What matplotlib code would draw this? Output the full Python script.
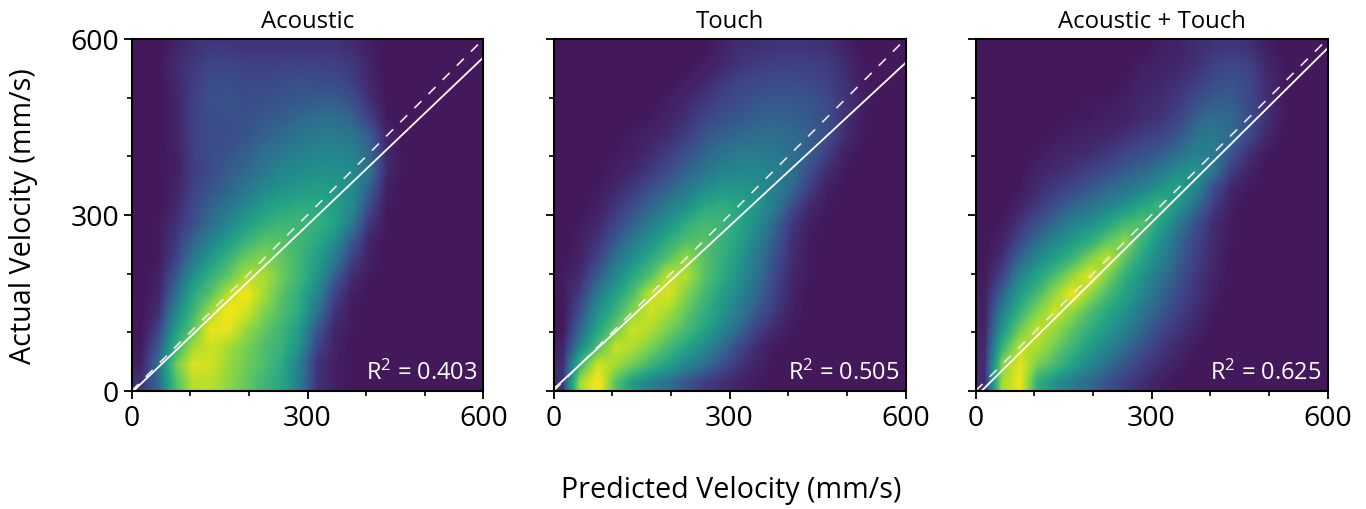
import numpy as np
import matplotlib
matplotlib.use('Agg')
import matplotlib.pyplot as plt
from matplotlib.colors import LinearSegmentedColormap
from matplotlib.ticker import MultipleLocator

plt.rcParams['font.family'] = ['Open Sans', 'DejaVu Sans']
plt.rcParams['mathtext.default'] = 'regular'

# density, 30 mm/s cells, top row is 570-600 mm/s
# scale 0 (empty) to 9 (brightest)
acoustic = [
    [0,0,.3,.6,.8,.8,.7,.7,.7,.7,.7,.7,.5,.2,0,0,0,0,0,0],
    [0,0,.5,.8,1.1,1.1,1,1,1,1.1,1,1,.8,.3,0,0,0,0,0,0],
    [0,0,.4,.9,1.3,1.3,1.2,1.2,1.3,1.4,1.3,1.3,1,.4,0,0,0,0,0,0],
    [0,0,.3,1,1.4,1.5,1.3,1.4,1.5,1.6,1.7,1.7,1.4,.6,0,0,0,0,0,0],
    [0,0,.3,1,1.3,1.4,1.4,1.6,1.7,2,2.2,2.2,1.9,1,.1,0,0,0,0,0],
    [0,0,.3,1,1.3,1.3,1.5,1.8,2.1,2.4,2.6,2.7,2.4,1.7,.3,0,0,0,0,0],
    [0,0,.2,1,1.3,1.5,1.8,2.2,2.5,2.8,3,3,2.9,2,.4,0,0,0,0,0],
    [0,0,.2,.9,1.3,1.7,2,2.5,3,3.2,3.4,3.4,3.1,2.3,.4,0,0,0,0,0],
    [0,0,.3,1,1.5,1.9,2.5,3.1,3.4,3.7,3.9,3.7,3.2,1.8,.2,0,0,0,0,0],
    [0,0,.4,1.2,1.9,2.4,3.1,3.8,4.2,4.5,4.4,4,3.2,1.2,.1,0,0,0,0,0],
    [0,.1,.6,1.4,2.2,3,3.9,4.6,5,5,4.7,4.1,2.6,.7,.1,0,0,0,0,0],
    [0,.1,.8,1.9,2.9,3.9,4.9,5.6,5.6,5,4.4,3.3,1.6,.3,0,0,0,0,0,0],
    [0,.1,1,2.6,3.8,5,6,6.4,5.8,5,4,2.6,1,.2,0,0,0,0,0,0],
    [0,.2,1.6,3.4,4.8,5.8,7.2,7.2,6,5,3.6,1.8,.5,.1,0,0,0,0,0,0],
    [0,.3,2.2,4.4,5.6,7.4,8.6,7,5.6,4.6,3,1.1,.2,0,0,0,0,0,0,0],
    [0,.5,3,5,7,8.8,7.8,6.4,5.4,4.4,2.4,.7,.1,0,0,0,0,0,0,0],
    [0,1,3.8,5.8,8.4,8.2,6.8,5.8,5,3.8,1.6,.4,.1,0,0,0,0,0,0,0],
    [.1,1.6,4.8,7,7.8,7,6.2,5.4,4.8,3.4,1.1,.3,0,0,0,0,0,0,0,0],
    [.2,2.2,6,8,7.8,6.8,6,5.4,4.4,2.8,.7,.2,0,0,0,0,0,0,0,0],
    [.6,2,5.4,7.4,7.4,6.6,5.8,5,4.2,2.6,.7,.2,0,0,0,0,0,0,0,0],
]
touch = [
    [0,0,0,0,0,0,0,0,0,.3,.5,.6,.7,.7,.7,.6,.3,0,0,0],
    [0,0,0,0,0,0,0,0,.2,.4,.7,.9,1,1,1,.9,.5,.1,0,0],
    [0,0,0,0,0,0,0,.2,.4,.8,1.1,1.2,1.3,1.3,1.2,1,.6,.1,0,0],
    [0,0,0,0,0,0,.2,.4,.7,1.1,1.3,1.5,1.6,1.6,1.5,1.2,.7,.2,0,0],
    [0,0,0,0,0,.1,.3,.6,1.1,1.4,1.6,1.8,1.9,1.8,1.6,1.3,.6,.1,0,0],
    [0,0,0,0,.2,.3,.5,.9,1.5,1.8,2,2.2,2.2,2.1,1.8,1.3,.5,.1,0,0],
    [0,0,0,.1,.2,.5,.9,1.4,1.9,2.3,2.6,2.6,2.5,2.2,1.7,.9,.2,0,0,0],
    [0,0,0,.2,.4,.8,1.3,1.9,2.4,2.9,3,3.1,2.8,2.3,1.3,.5,.1,0,0,0],
    [0,0,.1,.4,.8,1.4,1.9,2.5,3.2,3.6,3.6,3.4,2.8,2,.9,.2,0,0,0,0],
    [0,0,.2,.7,1.3,2,2.7,3.3,4.3,4.6,4.2,3.6,2.6,1.3,.4,.1,0,0,0,0],
    [0,.1,.4,1.1,1.9,2.7,3.5,4.6,5.2,5,4.2,3.3,2,.8,.2,0,0,0,0,0],
    [0,.2,.7,1.6,2.6,3.5,4.6,5.4,5.6,4.8,4.1,2.8,1.6,.6,.1,0,0,0,0,0],
    [0,.3,1.1,2.3,3.4,4.5,5.6,6.8,5.6,4.7,3.7,2.5,1.4,.5,.1,0,0,0,0,0],
    [.1,.5,1.7,3.1,4.4,5.6,7.6,7.2,5.6,4.5,3.4,2.3,1.2,.4,.1,0,0,0,0,0],
    [.1,.9,2.6,4,5.4,7.6,8,6.4,5.2,4,3,2,1,.3,0,0,0,0,0,0],
    [0,1.4,3.4,4.8,6.6,7.8,7,5.8,4.7,3.6,2.6,1.6,.8,.2,0,0,0,0,0,0],
    [0,2,4.2,6,7.8,7.2,6.2,5.2,4.2,3,2,1,.4,.1,0,0,0,0,0,0],
    [.3,3,5.4,7.6,7.2,6.2,5.2,4.2,3.2,2.2,1.2,.5,.1,0,0,0,0,0,0,0],
    [.5,5,7.8,7,6,5,4,3,2.2,1.4,.7,.3,0,0,0,0,0,0,0,0],
    [.6,7,8.8,5.5,3.8,2.8,2.2,1.5,.9,.6,.3,.1,0,0,0,0,0,0,0,0],
]
both = [
    [0,0,0,0,0,0,0,0,0,0,.2,.3,.5,.7,.8,.6,.2,0,0,0],
    [0,0,0,0,0,0,0,0,0,.2,.3,.4,.6,1,1.2,1,.4,.1,0,0],
    [0,0,0,0,0,0,0,0,.1,.3,.4,.6,.9,1.3,1.5,1.2,.5,.1,0,0],
    [0,0,0,0,0,0,.1,.1,.2,.4,.5,.8,1.3,1.7,1.7,1.2,.6,.1,0,0],
    [0,0,0,0,0,.1,.1,.2,.3,.5,.7,1.1,1.8,2.2,2,1.4,.6,.1,0,0],
    [0,0,0,0,.1,.2,.3,.4,.6,.9,1.1,1.6,2.3,2.6,2.1,1.2,.4,0,0,0],
    [0,0,0,.1,.3,.4,.5,.8,1.1,1.4,1.7,2.2,2.8,2.6,1.5,.6,.1,0,0,0],
    [0,0,0,.3,.5,.7,1,1.3,1.7,2,2.5,3.3,3.6,2.4,.9,.3,0,0,0,0],
    [0,0,.1,.5,.8,1.2,1.6,2,2.4,2.9,3.6,4,3,1.3,.4,.1,0,0,0,0],
    [0,0,.3,.8,1.4,1.9,2.4,2.9,3.5,4.3,5,3.6,2.1,.9,.2,0,0,0,0,0],
    [0,.1,.7,1.4,2.1,2.8,3.4,4.2,5.2,5.6,4,2.6,1.4,.5,.1,0,0,0,0,0],
    [0,.3,1.2,2.2,3,3.8,4.6,5.8,6.6,4.8,3.3,2,1.1,.5,.1,0,0,0,0,0],
    [0,.6,1.9,3.1,4,5,6.4,7.6,5.6,4.1,2.9,1.8,1,.4,0,0,0,0,0,0],
    [.1,1.1,2.9,4.2,5.4,6.8,8.2,6.2,4.6,3.4,2.4,1.5,.8,.3,0,0,0,0,0,0],
    [.2,1.9,3.9,5.2,6.8,8.4,6.6,5.2,4,3,2,1.2,.7,.2,0,0,0,0,0,0],
    [.2,2.8,4.8,6.4,7.8,6.6,5.4,4.3,3.4,2.4,1.6,1,.5,.1,0,0,0,0,0,0],
    [.3,3.6,6,7.6,6.8,5.6,4.6,3.7,2.8,1.9,1.2,.7,.3,0,0,0,0,0,0,0],
    [.4,4.8,7.4,7.2,6,5,3.8,2.9,2.1,1.4,.8,.4,.1,0,0,0,0,0,0,0],
    [.5,6.4,8.2,6.2,5.2,4,3,2.2,1.5,.9,.5,.2,0,0,0,0,0,0,0,0],
    [.5,7,8.4,4.6,3.4,2.6,2,1.4,.9,.5,.2,0,0,0,0,0,0,0,0,0],
]

titles = ['Acoustic', 'Touch', 'Acoustic + Touch']
panels = [acoustic, touch, both]
r2_values = ['0.403', '0.505', '0.625']
fit_slope = [0.953, 0.927, 0.99]
fit_intercept = [-3, 3, -10]
line_ends = [0, 600]
axis_ticks = [0, 300, 600]

cmap = LinearSegmentedColormap.from_list('print_viridis', [
    '#43195b', '#3f4388', '#2f6c8e', '#238a8d', '#25a584',
    '#48b972', '#7ad151', '#b5de2b', '#ece51b', '#f4e81a'])

fig = plt.figure(figsize=(13.66, 5.10), dpi=100)
lefts = [131.5, 553.5, 975.5]

for i in range(3):
    ax = fig.add_axes([lefts[i] / 1366, 1 - 392 / 510, 352 / 1366, 352 / 510])
    ax.imshow(panels[i], cmap=cmap, vmin=0, vmax=9.4, extent=[0, 600, 0, 600],
              origin='upper', interpolation='bilinear', aspect='auto')

    xs = np.array(line_ends)
    ax.plot(xs, xs, color='#e8e8e8', lw=1.2, dashes=(6, 6))
    ax.plot(xs, fit_slope[i] * xs + fit_intercept[i], color='white', lw=1.3)

    ax.set_xlim(0, 600)
    ax.set_ylim(0, 600)
    ax.set_xticks(axis_ticks)
    ax.set_yticks(axis_ticks)
    ax.xaxis.set_minor_locator(MultipleLocator(100))
    ax.yaxis.set_minor_locator(MultipleLocator(100))
    ax.tick_params(which='major', length=6, width=1.3, labelsize=20.5, pad=3)
    ax.tick_params(which='minor', length=3.5, width=1.2)
    if i > 0:
        ax.set_yticklabels([])
    for side in ax.spines.values():
        side.set_linewidth(1.5)

    ax.set_title(titles[i], fontsize=17.2, pad=9)
    ax.text(0.983, 0.018, 'R$^{2}$ = ' + r2_values[i], transform=ax.transAxes,
            color='white', fontsize=17, ha='right', va='bottom')

fig.text(731 / 1366, 1 - 491 / 510, 'Predicted Velocity (mm/s)', fontsize=20.6,
         ha='center', va='center')
fig.text(24 / 1366, 1 - 216 / 510, 'Actual Velocity (mm/s)', fontsize=20.6,
         ha='center', va='center', rotation=90)

fig.savefig('out.png', dpi=100)
